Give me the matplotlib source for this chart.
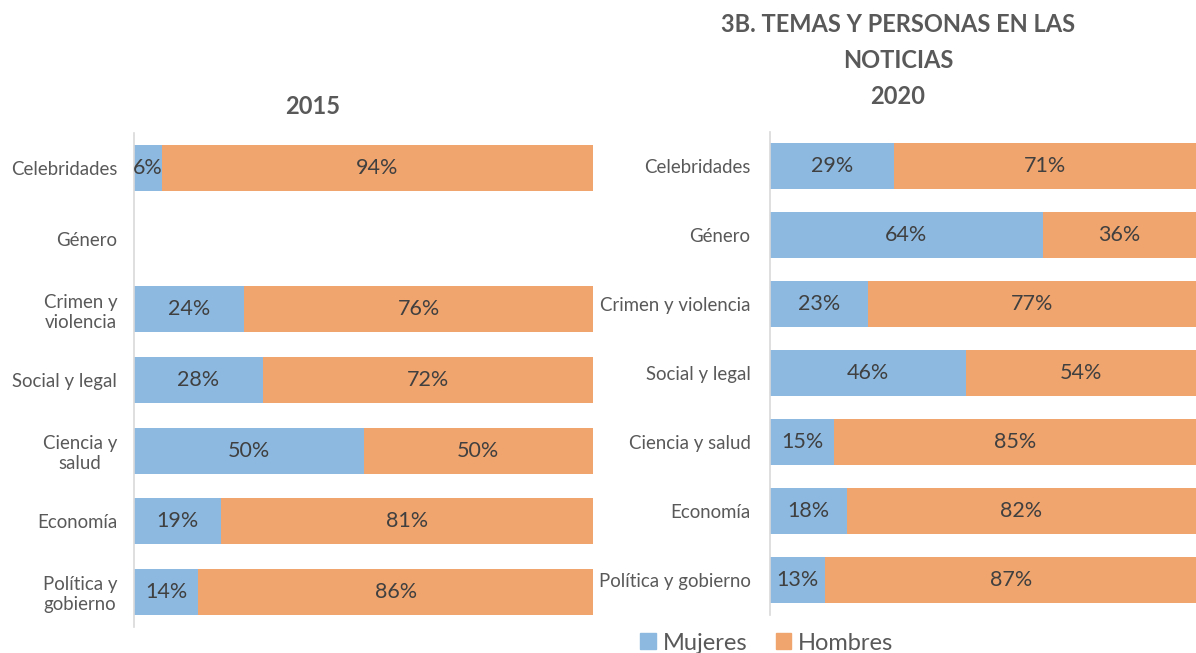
import numpy as np
import matplotlib.pyplot as plt

plt.rcParams['font.family'] = ['Lato', 'DejaVu Sans']

# Data
cats_2015 = ["Celebridades", "Género", "Crimen y\nviolencia", "Social y legal",
             "Ciencia y\nsalud", "Economía", "Política y\ngobierno"]
mujeres_2015 = [6, np.nan, 24, 28, 50, 19, 14]
hombres_2015 = [94, np.nan, 76, 72, 50, 81, 86]

cats_2020 = ["Celebridades", "Género", "Crimen y violencia", "Social y legal",
             "Ciencia y salud", "Economía", "Política y gobierno"]
mujeres_2020 = [29, 64, 23, 46, 15, 18, 13]
hombres_2020 = [71, 36, 77, 54, 85, 82, 87]

C_MUJ = "#8DB9E0"
C_HOM = "#F0A46E"
TXT = "#595959"
VAL = "#404040"

fig = plt.figure(figsize=(11.96, 6.53), dpi=100)
W, H = 1196, 653


def px_axes(x0, y0, x1, y1):
    return fig.add_axes([x0 / W, 1 - y1 / H, (x1 - x0) / W, (y1 - y0) / H])


def draw_panel(ax, cats, muj, hom, bar_h, pad):
    y = np.arange(len(cats))
    ax.barh(y, muj, height=bar_h, color=C_MUJ, linewidth=0)
    ax.barh(y, hom, left=muj, height=bar_h, color=C_HOM, linewidth=0)
    for i in range(len(cats)):
        m, h = muj[i], hom[i]
        if np.isnan(m):
            continue
        ax.text(m / 2, i, f"{m:.0f}%", ha="center", va="center", fontsize=15.5, color=VAL)
        ax.text(m + h / 2, i, f"{h:.0f}%", ha="center", va="center", fontsize=15.5, color=VAL)
    ax.set_yticks(y)
    ax.set_yticklabels(cats, fontsize=13.4, color=TXT, multialignment="center")
    ax.tick_params(axis="y", length=0, pad=pad)
    ax.set_xticks([])
    ax.set_xlim(0, 100)
    ax.set_ylim(len(cats) - 0.5, -0.5)
    for s in ["top", "right", "bottom"]:
        ax.spines[s].set_visible(False)
    ax.spines["left"].set_color("#D9D9D9")
    ax.spines["left"].set_linewidth(1.2)


ax1 = px_axes(134, 133, 593, 627)
draw_panel(ax1, cats_2015, mujeres_2015, hombres_2015, 0.65, 12)

ax2 = px_axes(770, 131.5, 1196, 614.5)
draw_panel(ax2, cats_2020, mujeres_2020, hombres_2020, 0.667, 14)

# Titles
fig.text(313 / W, 1 - 107 / H, "2015", ha="center", va="center",
         fontsize=17, fontweight="bold", color=TXT)
fig.text(898 / W, 1 - 25 / H, "3B. TEMAS Y PERSONAS EN LAS", ha="center", va="center",
         fontsize=17, fontweight="bold", color=TXT)
fig.text(898 / W, 1 - 61 / H, "NOTICIAS", ha="center", va="center",
         fontsize=17, fontweight="bold", color=TXT)
fig.text(898 / W, 1 - 97 / H, "2020", ha="center", va="center",
         fontsize=17, fontweight="bold", color=TXT)

# Legend
handles = [plt.Rectangle((0, 0), 1, 1, color=C_MUJ), plt.Rectangle((0, 0), 1, 1, color=C_HOM)]
fig.legend(handles, ["Mujeres", "Hombres"], loc="center", bbox_to_anchor=(767 / W, 1 - 643 / H),
           ncol=2, frameon=False, fontsize=17, handlelength=0.65, handleheight=0.65,
           handletextpad=0.3, columnspacing=1.2, labelcolor=TXT)

fig.savefig("out.png", dpi=100)
